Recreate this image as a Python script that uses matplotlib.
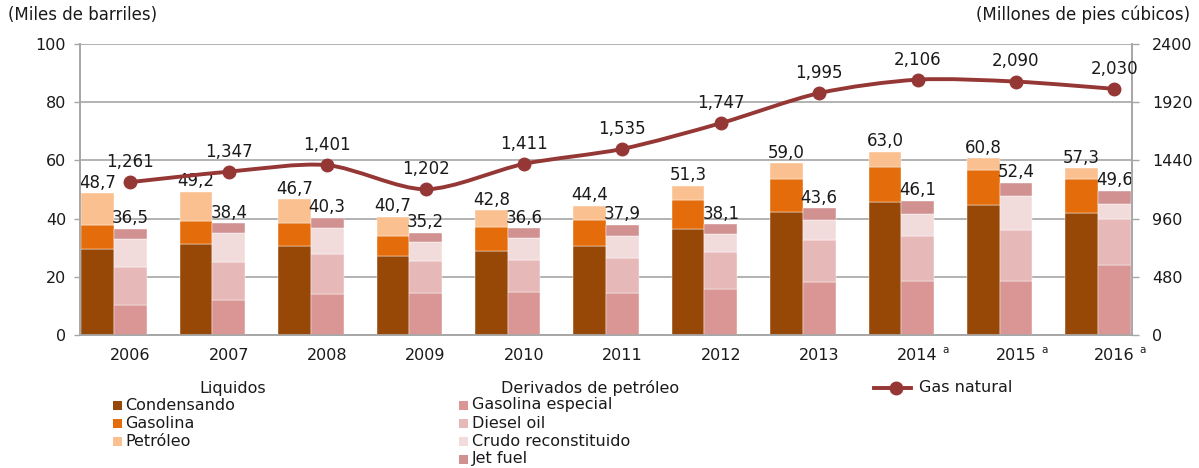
import numpy as np
import matplotlib
matplotlib.use("Agg")
import matplotlib.pyplot as plt
from matplotlib.path import Path
from matplotlib.patches import PathPatch, Rectangle
from matplotlib.lines import Line2D

plt.rcParams['font.family'] = ['DejaVu Sans']

years = ['2006', '2007', '2008', '2009', '2010', '2011', '2012', '2013', '2014', '2015', '2016']
prelim = [False, False, False, False, False, False, False, False, True, True, True]

# Liquidos (miles de barriles)
condensado = [29.7, 31.4, 30.7, 27.1, 29.0, 30.6, 36.4, 42.1, 45.8, 44.6, 41.8]
gasolina = [8.1, 7.9, 7.9, 7.0, 8.2, 8.9, 10.1, 11.6, 12.0, 12.0, 11.7]
petroleo = [10.9, 9.9, 8.1, 6.6, 5.6, 4.9, 4.8, 5.3, 5.2, 4.2, 3.8]

# Derivados de petroleo (miles de barriles)
gas_especial = [10.3, 12.0, 14.2, 14.6, 14.8, 14.5, 15.9, 18.2, 18.6, 18.6, 23.9]
diesel = [12.9, 13.1, 13.7, 10.9, 11.0, 11.9, 12.7, 14.3, 15.5, 17.5, 16.1]
crudo = [9.8, 10.0, 9.0, 6.3, 7.4, 7.7, 6.1, 7.0, 7.6, 11.7, 5.1]
jet_fuel = [3.5, 3.3, 3.4, 3.4, 3.4, 3.8, 3.4, 4.1, 4.4, 4.6, 4.5]

# Gas natural (millones de pies cubicos)
gas_natural = [1261, 1347, 1401, 1202, 1411, 1535, 1747, 1995, 2106, 2090, 2030]

TXT = '#1a1a1a'
GRID = '#a6a6a6'
LINE = '#953735'


def smooth_path(xs, ys):
    # catmull-rom -> bezier, como la linea suavizada de excel
    pts = np.column_stack([xs, ys]).astype(float)
    ext = np.vstack([pts[0], pts, pts[-1]])
    verts = [pts[0]]
    codes = [Path.MOVETO]
    for k in range(len(pts) - 1):
        p0, p1, p2, p3 = ext[k], ext[k + 1], ext[k + 2], ext[k + 3]
        verts += [p1 + (p2 - p0) / 7, p2 - (p3 - p1) / 7, p2]
        codes += [Path.CURVE4] * 3
    return Path(verts, codes)


fig = plt.figure(figsize=(11.99, 4.68), dpi=100)
ax = fig.add_axes([80 / 1199, 1 - 335 / 468, 1051.5 / 1199, 291 / 468])
ax2 = ax.twinx()

x = np.arange(len(years))
w = 0.332
xl = x - w / 2
xr = x + w / 2

bottom = np.zeros(len(years))
for vals, col in [(condensado, '#974706'), (gasolina, '#e46c0a'), (petroleo, '#fac090')]:
    ax.bar(xl, vals, w, bottom=bottom, color=col, edgecolor='white', linewidth=0.3, zorder=3)
    bottom += np.array(vals)
liq_tot = bottom.copy()

bottom = np.zeros(len(years))
for vals, col in [(gas_especial, '#d99694'), (diesel, '#e6b9b8'), (crudo, '#f2dcdb'), (jet_fuel, '#d09190')]:
    ax.bar(xr, vals, w, bottom=bottom, color=col, edgecolor='white', linewidth=0.3, zorder=3)
    bottom += np.array(vals)
der_tot = bottom.copy()

for i in range(len(years)):
    ax.annotate(f"{liq_tot[i]:.1f}".replace('.', ','), (xl[i], liq_tot[i]), xytext=(0, 1),
                textcoords='offset points', ha='center', va='bottom', fontsize=12, color=TXT, zorder=5)
    ax.annotate(f"{der_tot[i]:.1f}".replace('.', ','), (xr[i], der_tot[i]), xytext=(0, 1),
                textcoords='offset points', ha='center', va='bottom', fontsize=12, color=TXT, zorder=5)

ax.set_xlim(-0.346, 10.34)
ax.set_ylim(0, 100)
ax.set_yticks(range(0, 101, 20))
ax.yaxis.grid(True, color=GRID, linewidth=1.2, zorder=0)
ax.set_axisbelow(True)
ax.set_xticks(xr)
ax.set_xticklabels(years)
ax.tick_params(axis='x', length=0, pad=9, labelsize=11.5, labelcolor=TXT)
ax.tick_params(axis='y', length=4, width=1, color=GRID, pad=6, labelsize=11.5, labelcolor=TXT)
for i, p in enumerate(prelim):
    if p:
        ax.annotate('a', (xr[i], 0), xycoords=('data', 'axes fraction'), xytext=(18, -11),
                    textcoords='offset points', ha='left', va='center', fontsize=7.5, color=TXT)

ax2.set_ylim(0, 2400)
ax2.set_yticks(range(0, 2401, 480))
ax2.tick_params(axis='y', length=5, width=1, color=GRID, pad=10, labelsize=11.5, labelcolor=TXT)
for a in (ax, ax2):
    a.spines['top'].set_visible(False)
    for s in ('left', 'right', 'bottom'):
        a.spines[s].set_color(GRID)
        a.spines[s].set_linewidth(1.2)

ax2.add_patch(PathPatch(smooth_path(xr, gas_natural), facecolor='none', edgecolor=LINE,
                        linewidth=2.8, capstyle='round', zorder=4))
ax2.plot(xr, gas_natural, 'o', color=LINE, markersize=9, zorder=5)
for i, v in enumerate(gas_natural):
    ax2.annotate(f"{v:,}", (xr[i], v), xytext=(0, 8), textcoords='offset points',
                 ha='center', va='bottom', fontsize=12, color=TXT, zorder=6)

fig.text(8 / 1199, 1 - 15 / 468, '(Miles de barriles)', ha='left', va='center', fontsize=12, color=TXT)
fig.text(1190 / 1199, 1 - 15 / 468, '(Millones de pies cúbicos)', ha='right', va='center',
         fontsize=12, color=TXT)


# leyenda
def fx(px):
    return px / 1199


def fy(py):
    return 1 - py / 468


def item(xm, xt, yc, label, color):
    fig.patches.append(Rectangle((fx(xm), fy(yc + 4.5)), 9 / 1199, 9 / 468, facecolor=color,
                                 edgecolor='none', transform=fig.transFigure, figure=fig))
    fig.text(fx(xt), fy(yc), label, ha='left', va='center', fontsize=11.5, color=TXT)


fig.text(fx(233), fy(388), 'Liquidos', ha='center', va='center', fontsize=11.5, color=TXT)
item(113, 125, 405, 'Condensando', '#974706')
item(113, 125, 423, 'Gasolina', '#e46c0a')
item(113, 125, 441, 'Petróleo', '#fac090')

fig.text(fx(590), fy(388), 'Derivados de petróleo', ha='center', va='center', fontsize=11.5, color=TXT)
item(459, 472, 405, 'Gasolina especial', '#d99694')
item(459, 472, 423, 'Diesel oil', '#e6b9b8')
item(459, 472, 441, 'Crudo reconstituido', '#f2dcdb')
item(459, 472, 459, 'Jet fuel', '#d09190')

fig.lines.append(Line2D([fx(874), fx(911)], [fy(388), fy(388)], color=LINE, linewidth=2.8,
                        transform=fig.transFigure, figure=fig))
fig.lines.append(Line2D([fx(896)], [fy(388)], marker='o', markersize=9, color=LINE,
                        transform=fig.transFigure, figure=fig))
fig.text(fx(919), fy(388), 'Gas natural', ha='left', va='center', fontsize=11.5, color=TXT)

fig.savefig('out.png', dpi=100)
